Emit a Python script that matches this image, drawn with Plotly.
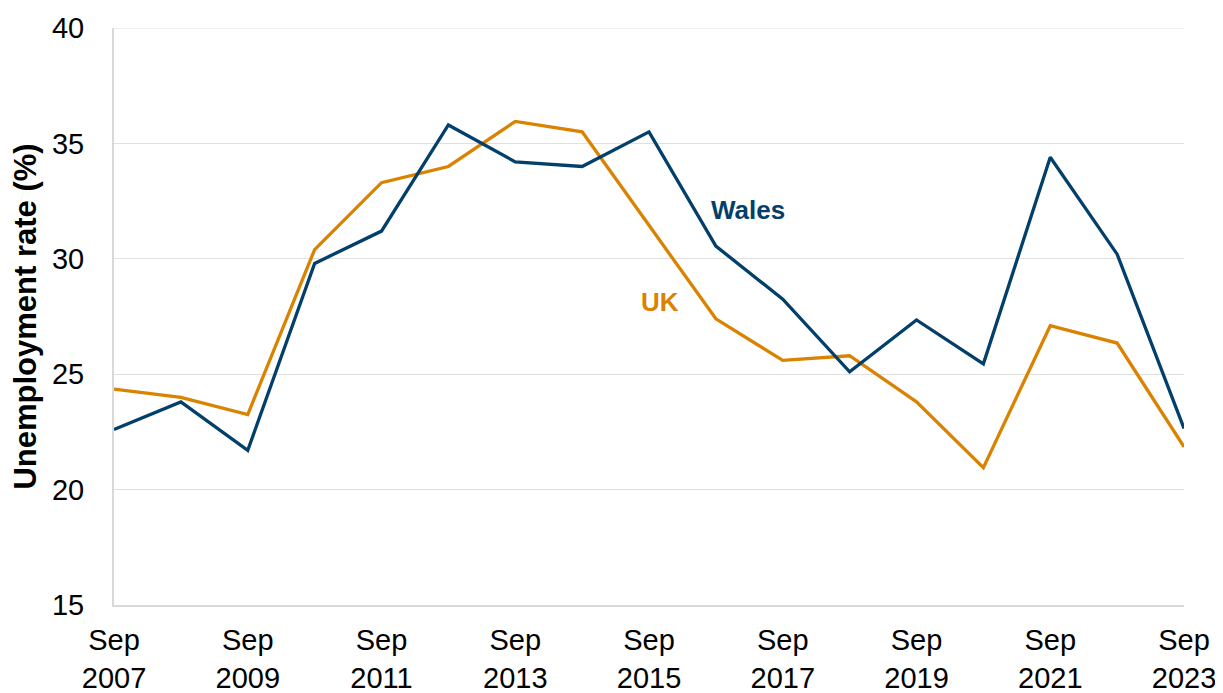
import plotly.graph_objects as go

years = list(range(2007, 2024))
wales = [22.6, 23.8, 21.7, 29.8, 31.2, 35.8, 34.2, 34.0, 35.5, 30.55, 28.25, 25.1, 27.35, 25.45, 34.4, 30.2, 22.65]
uk = [24.35, 24.0, 23.25, 30.4, 33.3, 34.0, 35.95, 35.5, 31.45, 27.4, 25.6, 25.8, 23.8, 20.95, 27.1, 26.35, 21.85]
tick_years = list(range(2007, 2024, 2))
tick_text = [f"Sep<br>{y}" for y in tick_years]
y_ticks = [15, 20, 25, 30, 35, 40]

WALES_C = "#023f6a"
UK_C = "#d98300"
FONT = "Liberation Sans, Arial"

fig = go.Figure()
fig.add_trace(go.Scatter(x=years, y=uk, mode="lines", name="UK",
                         line=dict(color=UK_C, width=3.3)))
fig.add_trace(go.Scatter(x=years, y=wales, mode="lines", name="Wales",
                         line=dict(color=WALES_C, width=3.3)))

fig.add_annotation(x=2016.48, y=32.1, text="<b>Wales</b>", showarrow=False,
                   font=dict(color=WALES_C, size=26, family=FONT))
fig.add_annotation(x=2015.16, y=28.13, text="<b>UK</b>", showarrow=False,
                   font=dict(color=UK_C, size=26, family=FONT))

# top gridline (plotly skips the grid line at the range edge)
fig.add_shape(type="line", xref="paper", x0=0, x1=1, yref="y",
              y0=max(y_ticks), y1=max(y_ticks),
              line=dict(color="#e0e0e0", width=1), layer="below")

fig.update_layout(
    width=1223, height=693,
    margin=dict(l=106, r=47, t=20, b=96),
    plot_bgcolor="white", paper_bgcolor="white",
    showlegend=False,
    font=dict(family=FONT, size=29, color="black"),
)
fig.update_xaxes(range=[2007, 2023], tickvals=tick_years, ticktext=tick_text,
                 showgrid=False, showline=True, linecolor="#d9d9d9", linewidth=2,
                 ticks="", tickfont=dict(size=29), zeroline=False,
                 ticklabelstandoff=8, automargin=False)
fig.update_yaxes(range=[15, 40], tickvals=y_ticks,
                 showgrid=True, gridcolor="#e0e0e0", gridwidth=1,
                 showline=True, linecolor="#d9d9d9", linewidth=2,
                 ticks="", tickfont=dict(size=29), zeroline=False,
                 ticklabelstandoff=22, automargin=False,
                 title=dict(text="<b>Unemployment rate (%)</b>", font=dict(size=31), standoff=6))

fig.write_html("out.html")
